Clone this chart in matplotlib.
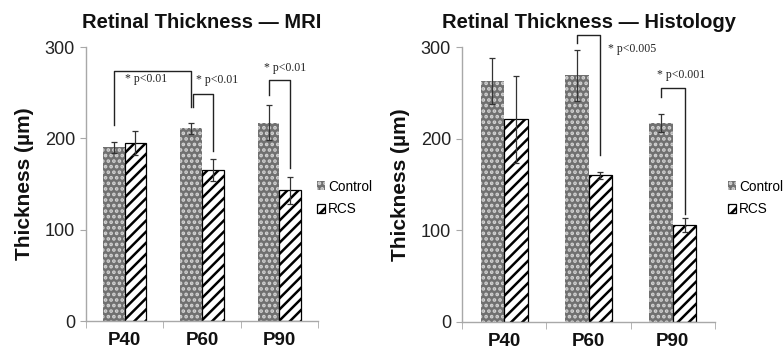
import matplotlib
matplotlib.use("Agg")
import matplotlib.pyplot as plt
import numpy as np

plt.rcParams['font.family'] = ['Liberation Sans', 'DejaVu Sans']
plt.rcParams['hatch.linewidth'] = 1.8

categories = ["P40", "P60", "P90"]
series = ["Control", "RCS"]

mri_control = [190, 211, 217]
mri_control_err = [6, 6, 19]
mri_rcs = [195, 165, 143]
mri_rcs_err = [13, 12, 15]

hist_control = [263, 269, 217]
hist_control_err = [25, 28, 10]
hist_rcs = [221, 160, 106]
hist_rcs_err = [47, 4, 8]

yticks = [0, 100, 200, 300]

# significance brackets: (x_left, x_right, left_bottom, top, right_bottom, label, text_x, text_y)
mri_brackets = [
    (-0.14, 0.86, 215, 274, 234, "* p<0.01", 0.0, 265),
    (0.89, 1.14, 234, 249, 186, "* p<0.01", 0.92, 264),
    (1.86, 2.14, 247, 264, 168, "* p<0.01", 1.80, 277),
]
hist_brackets = [
    (0.86, 1.14, 304, 313, 182, "* p<0.005", 1.23, 298),
    (1.86, 2.14, 246, 255, 118, "* p<0.001", 1.81, 269),
]

W, H = 783, 360
fig = plt.figure(figsize=(W / 100, H / 100), dpi=100)

panels = [
    dict(rect=(86 / W, 1 - 321 / H, 232 / W, 274 / H), title="Retinal Thickness \u2014 MRI",
         ctrl=mri_control, ctrl_err=mri_control_err, rcs=mri_rcs, rcs_err=mri_rcs_err,
         brackets=mri_brackets, legx=317 / W),
    dict(rect=(462 / W, 1 - 322 / H, 253 / W, 275 / H), title="Retinal Thickness \u2014 Histology",
         ctrl=hist_control, ctrl_err=hist_control_err, rcs=hist_rcs, rcs_err=hist_rcs_err,
         brackets=hist_brackets, legx=728 / W),
]

bw = 0.28
x = np.arange(len(categories))
spine_col = '#a8a8a8'
for p in panels:
    ax = fig.add_axes(p['rect'])
    b1 = ax.bar(x - bw / 2, p['ctrl'], bw, color='#707070', edgecolor='#d4d4d4', linewidth=0,
                hatch='...', label=series[0], zorder=2)
    b2 = ax.bar(x + bw / 2, p['rcs'], bw, color='white', edgecolor='black', linewidth=0.9,
                hatch='///', label=series[1], zorder=2)
    ax.errorbar(x - bw / 2, p['ctrl'], yerr=p['ctrl_err'], fmt='none', ecolor='#333333',
                elinewidth=0.9, capsize=2, capthick=0.9, zorder=3)
    ax.errorbar(x + bw / 2, p['rcs'], yerr=p['rcs_err'], fmt='none', ecolor='#333333',
                elinewidth=0.9, capsize=2, capthick=0.9, zorder=3)
    for (xl, xr, lb, top, rb, lab, tx, ty) in p['brackets']:
        ax.plot([xl, xl, xr, xr], [lb, top, top, rb], color='#222222', lw=1.0,
                clip_on=False, zorder=4)
        ax.text(tx, ty, lab, fontsize=8.5, family=['Liberation Serif', 'DejaVu Serif'],
                ha='left', va='center', color='#222222', clip_on=False)
    ax.set_xlim(-0.5, len(categories) - 0.5)
    ax.set_ylim(0, 300)
    ax.set_yticks(yticks)
    ax.set_yticklabels([str(t) for t in yticks], fontsize=13, color='#222222')
    ax.set_xticks(x)
    ax.set_xticklabels(categories, fontsize=13.5, fontweight='bold', color='#111111')
    ax.set_xticks(np.arange(len(categories) + 1) - 0.5, minor=True)
    ax.tick_params(axis='x', which='major', length=0, pad=8)
    ax.tick_params(axis='x', which='minor', length=5, color=spine_col, direction='out')
    ax.tick_params(axis='y', length=4, color=spine_col, direction='out', pad=4)
    for s in ['top', 'right']:
        ax.spines[s].set_visible(False)
    for s in ['left', 'bottom']:
        ax.spines[s].set_color(spine_col)
        ax.spines[s].set_linewidth(1.0)
    ax.set_ylabel("Thickness (\u00b5m)", fontsize=15, fontweight='bold', color='#111111', labelpad=8)
    ax.set_title(p['title'], fontsize=14.5, fontweight='bold', color='#111111', pad=14)
    fig.legend(handles=[b1, b2], labels=series, loc='center left',
               bbox_to_anchor=(p['legx'], 1 - 198 / H), frameon=False,
               prop={'size': 9.8},
               handlelength=0.6, handleheight=0.6, handletextpad=0.2, labelspacing=0.65,
               borderpad=0, borderaxespad=0)

fig.savefig("out.png", dpi=100)
